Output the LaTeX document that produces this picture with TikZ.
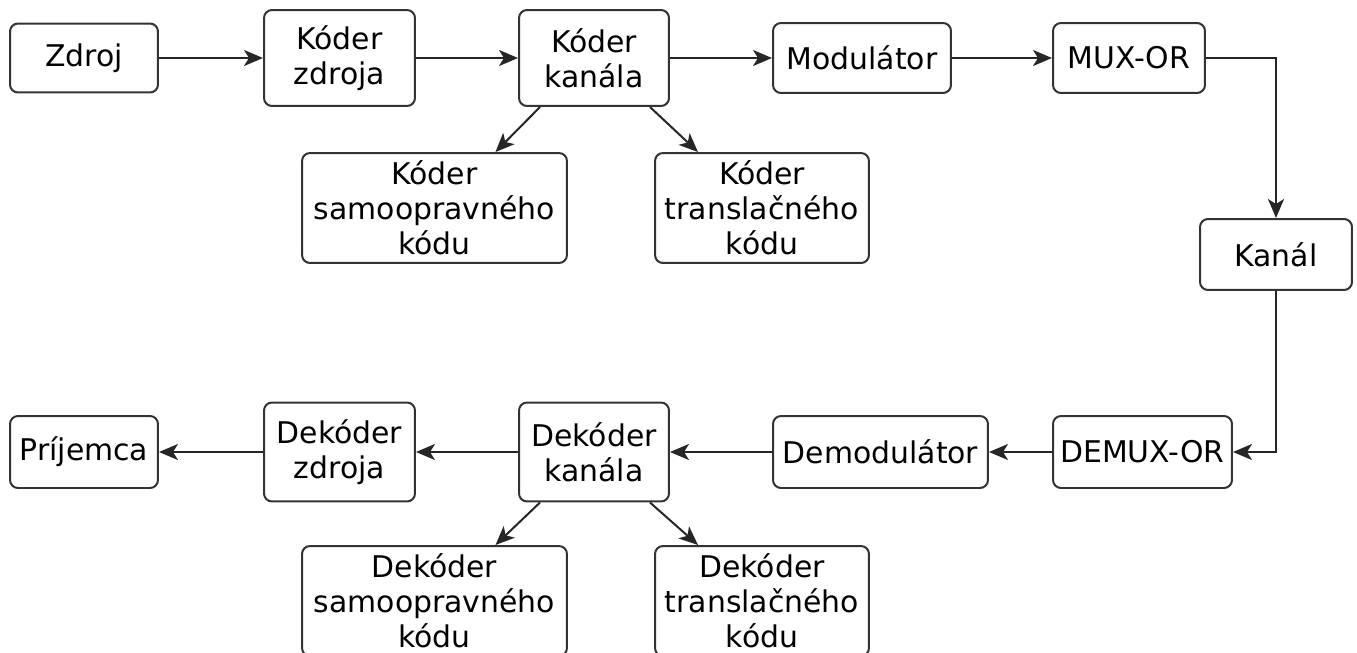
\documentclass[tikz,border=0pt]{standalone}
\usepackage{fontspec}
\setmainfont{DejaVu Sans}
\usepackage{tikz}
\usetikzlibrary{arrows.meta}

\begin{document}
\begin{tikzpicture}[x=0.02cm, y=-0.02cm,
        blok/.style={draw=black!80, line width=0.04cm, rounded corners=0.16cm, align=center, inner sep=0pt,
                font=\fontsize{17}{20}\selectfont},
        sipka/.style={line width=0.04cm, draw=black!85, -{Stealth[length=0.38cm, width=0.32cm, inset=0.1cm]}}]
                \useasboundingbox (0,0) rectangle (1357,653);
                \clip (0,0) rectangle (1357,653);
                % vysielac
                \node[blok, minimum width=2.96cm, minimum height=1.38cm] (zdroj) at (84,58) {Zdroj};
                \node[blok, minimum width=3.02cm, minimum height=1.92cm] (kz) at (339.5,58) {Kóder\\zdroja};
                \node[blok, minimum width=3.0cm, minimum height=1.92cm] (kk) at (594,58) {Kóder\\kanála};
                \node[blok, minimum width=3.56cm, minimum height=1.4cm] (mod) at (862,58) {Modulátor};
                \node[blok, minimum width=3.04cm, minimum height=1.4cm] (mux) at (1129,58) {MUX-OR};
                \node[blok, minimum width=5.3cm, minimum height=2.2cm] (ks) at (434.5,208) {Kóder\\samoopravného\\kódu};
                \node[blok, minimum width=4.28cm, minimum height=2.2cm] (kt) at (762,208) {Kóder\\translačného\\kódu};
                % kanal
                \node[blok, minimum width=3.04cm, minimum height=1.42cm] (kanal) at (1276,254.5) {Kanál};
                % prijimac
                \node[blok, minimum width=3.58cm, minimum height=1.44cm] (demux) at (1142.5,452) {DEMUX-OR};
                \node[blok, minimum width=4.3cm, minimum height=1.44cm] (demod) at (880.5,452) {Demodulátor};
                \node[blok, minimum width=3.0cm, minimum height=1.98cm] (dk) at (594,452) {Dekóder\\kanála};
                \node[blok, minimum width=3.02cm, minimum height=1.98cm] (dz) at (339.5,452) {Dekóder\\zdroja};
                \node[blok, minimum width=2.96cm, minimum height=1.44cm] (prij) at (84,452) {Príjemca};
                \node[blok, minimum width=5.3cm, minimum height=2.2cm] (ds) at (434.5,601) {Dekóder\\samoopravného\\kódu};
                \node[blok, minimum width=4.28cm, minimum height=2.2cm] (dt) at (762,601) {Dekóder\\translačného\\kódu};
                % spoje
                \draw[sipka] (zdroj) -- (kz);
                \draw[sipka] (kz) -- (kk);
                \draw[sipka] (kk) -- (mod);
                \draw[sipka] (mod) -- (mux);
                \draw[sipka] ([xshift=-1.08cm]kk.south) -- ([xshift=1.22cm]ks.north);
                \draw[sipka] ([xshift=1.12cm]kk.south) -- ([xshift=-1.28cm]kt.north);
                \draw[sipka] (mux.east) -| (kanal.north);
                \draw[sipka] (kanal.south) |- (demux.east);
                \draw[sipka] (demux) -- (demod);
                \draw[sipka] (demod) -- (dk);
                \draw[sipka] (dk) -- (dz);
                \draw[sipka] (dz) -- (prij);
                \draw[sipka] ([xshift=-1.08cm]dk.south) -- ([xshift=1.22cm]ds.north);
                \draw[sipka] ([xshift=1.12cm]dk.south) -- ([xshift=-1.28cm]dt.north);
            \end{tikzpicture}
\end{document}
